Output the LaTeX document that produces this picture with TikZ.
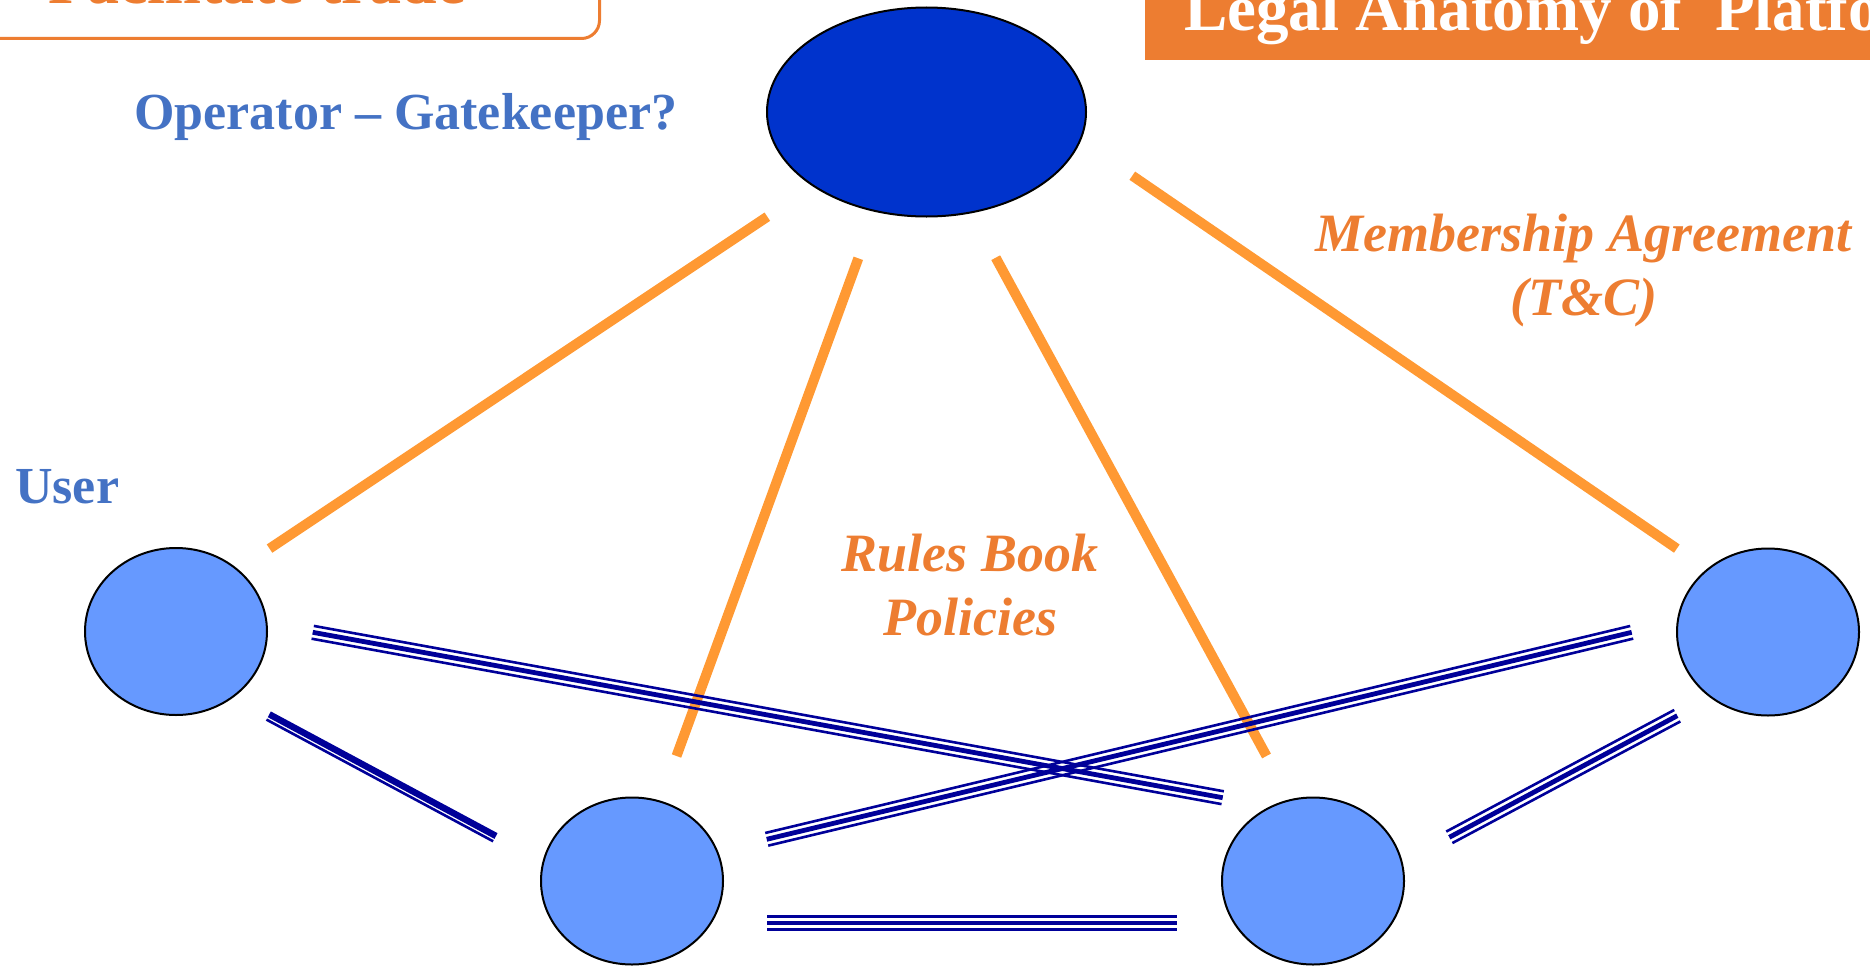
\documentclass[tikz,border=0pt]{standalone}
\usepackage{fontspec}
\setmainfont{Liberation Serif}
\usetikzlibrary{calc,shapes.geometric}
\definecolor{ortext}{HTML}{ED7D31}
\definecolor{orline}{HTML}{FF9933}
\definecolor{bltext}{HTML}{4472C4}
\definecolor{opfill}{HTML}{0033CC}
\definecolor{userfill}{HTML}{6699FF}
\definecolor{navyline}{HTML}{000099}
\tikzset{
  bthin/.style={draw=navyline, line width=2.6pt},
  bthick/.style={draw=navyline, line width=4.8pt},
  bheavy/.style={draw=navyline, line width=6.5pt},
  orl/.style={draw=orline, line width=10pt},
  userbox/.style={ellipse, draw=black, line width=2pt, fill=userfill,
    minimum width=182pt, minimum height=167pt, inner sep=0pt},
  opbox/.style={ellipse, draw=black, line width=2pt, fill=opfill,
    minimum width=319pt, minimum height=209pt, inner sep=0pt},
  bluelabel/.style={text=bltext, inner sep=0pt, font=\bfseries\fontsize{52}{60}\selectfont},
  orangelabel/.style={text=ortext, inner sep=0pt, anchor=base, font=\bfseries\itshape\fontsize{54}{63}\selectfont},
}
\newcommand\tripleline[2]{%
  \draw[bthin] ($(#1)!6.5pt!90:(#2)$) -- ($(#2)!6.5pt!-90:(#1)$);
  \draw[bthick] (#1) -- (#2);
  \draw[bthin] ($(#1)!6.5pt!-90:(#2)$) -- ($(#2)!6.5pt!90:(#1)$);}
\begin{document}
\begin{tikzpicture}[x=1pt, y=-1pt]
\useasboundingbox (0,0) rectangle (1870,966);
\clip (0,0) rectangle (1870,966);
% header elements
\node (tradebox) [draw=ortext, line width=3pt, rounded corners=18pt, fill=white,
  anchor=south east, minimum width=700pt, minimum height=110pt, inner sep=0pt] at (601,40) {};
\node (tradetext) [anchor=base west, text=ortext, inner sep=0pt,
  font=\bfseries\fontsize{64}{70}\selectfont] at (48,4) {Facilitate trade};
\node (titlebar) [fill=ortext, anchor=south west, minimum width=760pt,
  minimum height=110pt, inner sep=0pt] at (1145,60) {};
\node (titletext) [anchor=base west, text=white, inner sep=0pt,
  font=\bfseries\fontsize{65}{75}\selectfont] at (1184,31) {Legal Anatomy of\ \ Platforms};
% ellipses
\node (op) [opbox] at (926.5,112) {};
\node (u1) [userbox] at (176,631.5) {};
\node (u2) [userbox] at (632,881) {};
\node (u3) [userbox] at (1313,881) {};
\node (u4) [userbox] at (1768,632) {};
% orange connector ends
\coordinate (o1a) at (767.3,216.7);  \coordinate (o1b) at (269.5,548.6);
\coordinate (o2a) at (858.3,258.3);  \coordinate (o2b) at (676.5,756);
\coordinate (o3a) at (995.7,257.7);  \coordinate (o3b) at (1266.5,756);
\coordinate (o4a) at (1132.3,175.7); \coordinate (o4b) at (1676.8,548.6);
\draw[orl] (o1a) -- (o1b);
\draw[orl] (o2a) -- (o2b);
\draw[orl] (o3a) -- (o3b);
\draw[orl] (o4a) -- (o4b);
% blue connector ends
\coordinate (ba1) at (312.7,632.3);  \coordinate (ba2) at (1222.7,797.7);
\coordinate (bb1) at (1631.7,632.3); \coordinate (bb2) at (766.7,839.3);
\coordinate (bc1) at (767.3,923);    \coordinate (bc2) at (1176.7,923);
\coordinate (bd1) at (269.3,714.3);  \coordinate (bd2) at (496,836);
\coordinate (be1) at (1449.3,837.3); \coordinate (be2) at (1677.3,715.7);
\tripleline{ba1}{ba2}
\tripleline{bb1}{bb2}
\tripleline{bc1}{bc2}
\tripleline{be1}{be2}
\draw[bheavy] (bd1) -- (bd2);
\draw[bthin] ($(bd1)!6pt!-90:(bd2)$) -- ($(bd2)!6pt!90:(bd1)$);
% labels
\node (oplabel) [bluelabel, anchor=base west] at (134,129) {Operator – Gatekeeper?};
\node (userlabel) [bluelabel, anchor=base west] at (15,503) {User};
\node (rules) [orangelabel] at (970,571.7) {Rules Book};
\node (policies) [orangelabel] at (970,635) {Policies};
\node (member) [orangelabel] at (1583.5,251) {Membership Agreement};
\node (tc) [orangelabel] at (1583.5,315) {(T\&C)};
\end{tikzpicture}
\end{document}
